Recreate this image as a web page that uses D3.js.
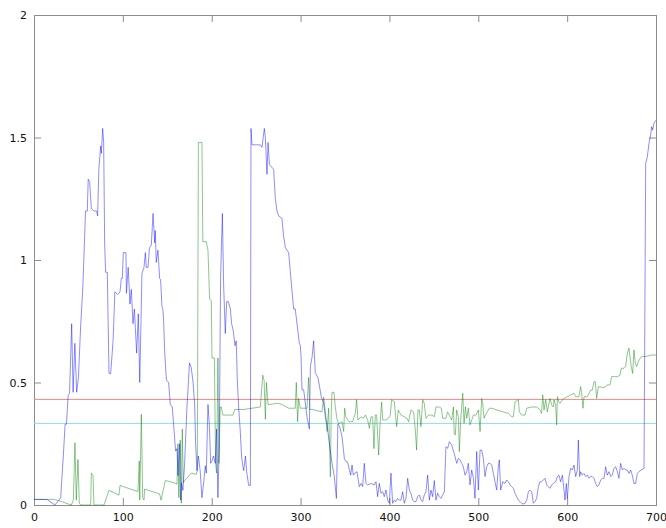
<!DOCTYPE html>
<html>
<head>
<meta charset="utf-8">
<script src="https://cdn.jsdelivr.net/npm/d3@7"></script>
<style>
  html, body { margin: 0; padding: 0; background: #fff; }
  svg { display: block; }
  .tick text { font-family: "DejaVu Sans", sans-serif; font-size: 11px; fill: #111; }
</style>
</head>
<body>
<div id="chart"></div>
<script>
// values, as [x, y]
const blueSeries = [
  [0,0.023],[15,0.022],[23.5,0.0],[28,0.02],[30,0.03],[33,0.2],[35,0.33],[36.5,0.33],[38.5,0.45],[40,0.455],
  [42.4,0.74],[44,0.46],[46,0.66],[48,0.46],[50,0.52],[52.5,0.73],[55,0.89],[58,1.2],[60,1.2],[61,1.33],
  [62.6,1.32],[64.5,1.21],[67.5,1.2],[70.5,1.2],[71.6,1.18],[73,1.37],[75,1.465],[75.8,1.435],[77.3,1.537],[78.4,1.48],
  [79.5,1.07],[80.6,0.95],[82.5,0.95],[84.4,0.537],[86.3,0.537],[89,0.67],[91,0.87],[94,0.86],[96.8,0.87],[98.3,0.925],
  [99.4,0.925],[100.5,1.03],[103.5,1.03],[104,0.864],[106,0.97],[108,0.82],[109.5,0.88],[111.4,0.74],[113,0.8],[115.5,0.62],
  [117.4,0.78],[119,0.5],[121.5,0.945],[123.8,0.97],[125.3,1.03],[126.4,0.97],[128.3,0.97],[130,1.05],[132,1.06],[134,1.19],
  [135.8,1.07],[136.5,1.12],[137.6,0.99],[139.5,1.04],[141.4,0.925],[142.5,0.92],[144,0.81],[145,0.8],[145.9,0.75],[147,0.63],
  [149,0.51],[151.5,0.5],[153.4,0.41],[155.6,0.4],[157.5,0.31],[159.4,0.22],[160.9,0.23],[162,0.12],[163.9,0.25],[165,0.02],
  [166,0.09],[167.6,0.06],[169.5,0.17],[172,0.39],[175,0.58],[177,0.56],[179,0.5],[180.8,0.41],[182,0.24],[183.4,0.14],
  [185,0.2],[187,0.14],[189,0.03],[190.9,0.09],[192.8,0.16],[193.9,0.13],[195.8,0.41],[197.3,0.33],[198.8,0.17],[200.3,0.18],
  [202,0.2],[204,0.17],[205.5,0.31],[207,0.03],[208.5,0.25],[210,0.93],[212,1.19],[213.4,0.9],[215.3,0.7],[216.8,0.83],
  [218.7,0.83],[221,0.8],[222.4,0.74],[224.3,0.71],[226.2,0.65],[227.6,0.67],[228.8,0.51],[230.3,0.4],[232,0.31],[233.6,0.2],
  [235,0.16],[236,0.14],[238,0.2],[239.3,0.136],[241.6,0.08],[243.5,0.08],[244.2,1.537],[245.4,1.47],[254.7,1.47],[256.6,1.46],
  [259.2,1.537],[260.4,1.5],[262.2,1.35],[263.4,1.48],[264.9,1.39],[269.7,1.37],[271.6,1.25],[273.5,1.2],[275.4,1.18],[279,1.17],
  [281,1.095],[282.9,1.05],[286.6,1.03],[289.6,0.905],[292.2,0.8],[294,0.8],[296,0.74],[298.6,0.66],[299.7,0.65],[300.5,0.61],
  [301.6,0.47],[303.5,0.47],[307.2,0.36],[309.9,0.31],[311,0.565],[313,0.605],[314.7,0.67],[316.6,0.54],[319.6,0.52],[323.4,0.44],
  [326,0.415],[327.9,0.36],[329.7,0.33],[332.4,0.25],[335.4,0.17],[338,0.116],[340.3,0.027],[342,0.33],[344,0.32],[346.6,0.28],
  [349.3,0.19],[351,0.177],[353,0.175],[354.9,0.143],[356.4,0.122],[357.9,0.163],[359.4,0.122],[361.2,0.13],[363.5,0.136],[365,0.1],
  [366.1,0.075],[368,0.088],[369.9,0.075],[371.7,0.17],[373.6,0.088],[375.5,0.082],[379.2,0.088],[383,0.082],[384.9,0.095],[386.7,0.034],
  [388.6,0.088],[390.5,0.048],[392.4,0.054],[394.2,0.034],[396.1,0.061],[398,0.02],[399.9,0.007],[401.7,0.13],[403.6,0.007],[405.5,0.02],
  [407.4,0.014],[409.2,0.027],[411.1,0.02],[413,0.02],[414.9,0.054],[416.7,0.007],[418.6,0.027],[420.5,0.109],[422.4,0.061],[424.2,0.048],
  [426.1,0.02],[428,0.014],[429.9,0.014],[431.7,0.034],[433.6,0.041],[435.5,0.02],[437.4,0.014],[439.2,0.041],[441.1,0.054],[443,0.122],
  [444.9,0.02],[446.7,0.061],[448.6,0.034],[450.5,0.1],[452.4,0.02],[454.2,0.048],[456.1,0.034],[458,0.027],[459.9,0.041],[461.8,0.054],
  [463.6,0.238],[465.5,0.231],[467.4,0.258],[470.1,0.245],[473.9,0.197],[475.7,0.17],[477.6,0.19],[479.5,0.184],[481.3,0.17],[483.2,0.156],
  [485.1,0.122],[487,0.136],[488.8,0.17],[490.7,0.082],[492.6,0.143],[494.5,0.109],[496.3,0.027],[498.2,0.218],[500.1,0.061],[502,0.224],
  [503.8,0.224],[505.7,0.19],[507.6,0.116],[509.5,0.156],[511.3,0.17],[513.2,0.17],[515.1,0.163],[517,0.129],[518.8,0.095],[520.7,0.061],
  [522.6,0.156],[523.7,0.184],[525.2,0.061],[527.5,0.095],[530.1,0.088],[532,0.102],[533.8,0.095],[535.7,0.082],[537.6,0.075],[539.5,0.068],
  [541.3,0.048],[543.2,0.034],[545.1,0.02],[547,0.014],[548.8,0.007],[550.7,0.004],[552.6,0.007],[554.5,0.02],[556.4,0.054],[558.2,0.061],
  [560.1,0.054],[562,0.007],[563.9,0.014],[565.7,0.027],[567.6,0.075],[569.5,0.095],[571.3,0.095],[573.2,0.102],[575.1,0.109],[577,0.082],
  [578.8,0.075],[580.7,0.068],[582.6,0.082],[584.5,0.088],[587.1,0.095],[589,0.116],[590.8,0.122],[592.7,0.095],[594.6,0.122],[596.5,0.061],
  [597.6,0.02],[599.1,0.088],[600.2,0.027],[602.1,0.116],[604,0.15],[605.8,0.143],[607.7,0.163],[609.6,0.116],[611.5,0.143],[612.6,0.265],
  [614.1,0.116],[615.2,0.136],[617.1,0.122],[619,0.129],[620.8,0.116],[622.7,0.122],[624.6,0.109],[626.5,0.116],[628.3,0.116],[630.2,0.109],
  [632.1,0.088],[634,0.075],[635.8,0.082],[637.7,0.102],[639.6,0.109],[641.5,0.109],[643.3,0.156],[645.2,0.122],[647.1,0.136],[649,0.116],
  [650.8,0.122],[652.7,0.15],[654.6,0.156],[656.5,0.136],[658.3,0.109],[660.2,0.17],[662.1,0.143],[664,0.15],[665.8,0.143],[667.7,0.143],
  [669.6,0.129],[671.5,0.143],[673.3,0.122],[675.2,0.088],[677.1,0.088],[679,0.129],[680.8,0.136],[683.5,0.143],[686.5,0.15],[688.4,1.395],
  [690.2,1.42],[692.1,1.476],[694,1.51],[695.1,1.544],[696.2,1.53],[697.8,1.558],[699.6,1.57]
];

const greenSeries = [
  [0,0.023],[23,0.023],[30,0.015],[42,0.0],[44.3,0.02],[46.1,0.254],[47.6,0.02],[49.5,0.186],[51,0.007],[52.5,0],
  [63.8,0],[64.5,0.13],[66.4,0.12],[67.5,0],[78.8,0],[84.4,0.06],[95.6,0.04],[96.8,0.08],[112.5,0.06],[117,0.055],
  [118.5,0.18],[119,0.02],[120.8,0.37],[122.3,0.03],[123.8,0.02],[124.5,0.065],[141.4,0.045],[143,0.02],[147.8,0.1],[158.3,0.09],
  [160.9,0.085],[162,0.25],[163,0.03],[164.6,0.265],[165.8,0.007],[166.9,0.31],[168,0.09],[169.5,0.1],[177,0.13],[182.6,0.125],
  [183.8,0.14],[185,1.48],[189,1.48],[190,1.075],[193.9,1.075],[195.8,1.04],[197.6,0.84],[199.5,0.835],[200.3,0.6],[203,0.6],
  [204.4,0.17],[205.5,0.13],[207,0.6],[208.1,0.17],[209.6,0.4],[210.8,0.4],[212.6,0.367],[216.4,0.367],[223.9,0.367],[225.8,0.39],
  [236.3,0.39],[254.7,0.4],[257.4,0.53],[258.9,0.51],[260.4,0.35],[261.5,0.5],[263.4,0.41],[275.4,0.415],[279,0.41],[286.6,0.395],
  [294,0.395],[295.2,0.5],[296.7,0.34],[297.8,0.435],[299.7,0.395],[307.2,0.395],[309,0.52],[310.3,0.39],[313,0.39],[324,0.38],
  [326,0.44],[327.9,0.38],[329.8,0.3],[331.6,0.395],[333.5,0.115],[334.6,0.39],[335.4,0.46],[337.6,0.46],[339.1,0.4],[341,0.35],
  [342.9,0.33],[346.6,0.34],[348.5,0.3],[349.6,0.395],[351,0.36],[353,0.347],[354.9,0.34],[358.6,0.34],[361.6,0.374],[363.1,0.43],
  [364.6,0.347],[368,0.36],[370.6,0.354],[372.9,0.367],[375.5,0.347],[377.4,0.313],[379.2,0.36],[381.1,0.36],[382.6,0.23],[384.1,0.367],
  [385.6,0.367],[387.9,0.204],[389.4,0.327],[391.2,0.42],[392.4,0.347],[396.1,0.347],[398.7,0.354],[401,0.367],[402.5,0.43],[405.5,0.422],
  [407.4,0.347],[408.1,0.32],[410,0.388],[413,0.367],[416.7,0.36],[419.7,0.354],[421.6,0.34],[424.2,0.388],[427.2,0.38],[429.1,0.306],
  [430.6,0.224],[432.1,0.388],[433.6,0.388],[435.5,0.32],[437.4,0.43],[439.2,0.415],[441.1,0.354],[444.1,0.367],[447.9,0.367],[450.5,0.36],
  [452.4,0.4],[456.1,0.4],[458.4,0.395],[459.9,0.354],[463.6,0.354],[465.5,0.38],[468.2,0.36],[470.1,0.347],[472,0.4],[473,0.29],
  [474.2,0.286],[475.7,0.388],[477.6,0.36],[478.7,0.218],[480.2,0.347],[482.5,0.456],[484,0.333],[485.5,0.4],[487,0.354],[488.8,0.395],
  [490.7,0.327],[492.6,0.347],[494.5,0.367],[497.5,0.367],[500.1,0.388],[502,0.3],[503.8,0.435],[505,0.415],[506.5,0.354],[508,0.367],
  [510.2,0.38],[512.5,0.395],[515.1,0.395],[520.7,0.388],[528.2,0.38],[533.8,0.374],[537.6,0.36],[539.5,0.36],[541.3,0.42],[545.1,0.43],
  [546.2,0.38],[548.8,0.367],[552.6,0.367],[554.5,0.395],[560.1,0.4],[565.7,0.4],[569.5,0.388],[571.3,0.374],[572.5,0.45],[574,0.388],
  [575.8,0.43],[577.7,0.38],[580.7,0.435],[582.6,0.408],[584.5,0.4],[585.2,0.429],[587.1,0.408],[588.2,0.327],[589,0.442],[590.5,0.422],
  [592,0.415],[594.6,0.429],[596.5,0.435],[600.2,0.442],[604,0.449],[607.7,0.456],[609.6,0.442],[613.3,0.442],[615.2,0.483],[616.3,0.456],
  [617.8,0.395],[619,0.442],[622.7,0.442],[626.5,0.469],[628.3,0.469],[630.2,0.503],[631.7,0.503],[633.2,0.435],[635.1,0.483],[641.5,0.479],
  [645.2,0.49],[648.2,0.49],[650.1,0.524],[656.5,0.524],[659.5,0.53],[661,0.558],[664,0.558],[665.8,0.565],[667.7,0.62],[669.6,0.64],
  [670.7,0.605],[672.2,0.565],[673.7,0.537],[675.2,0.633],[676.7,0.578],[678.2,0.565],[680.8,0.592],[683.5,0.605],[690.2,0.607],[694,0.612],
  [700,0.612]
];

// the two flat reference lines
const redLevel = 0.431;
const cyanLevel = 0.333;

const xTicks = [0, 100, 200, 300, 400, 500, 600, 700];
const yTicks = [0, 0.5, 1, 1.5, 2];

const width = 666, height = 528;
const margin = { top: 15, right: 10, bottom: 23, left: 34 };
const innerW = width - margin.left - margin.right;
const innerH = height - margin.top - margin.bottom;

const svg = d3.select("#chart")
  .append("svg")
  .attr("width", width)
  .attr("height", height);

const g = svg.append("g")
  .attr("transform", "translate(" + margin.left + "," + margin.top + ")");

const x = d3.scaleLinear().domain([0, 700]).range([0, innerW]);
const y = d3.scaleLinear().domain([0, 2]).range([innerH, 0]);

const fmt = d3.format("~g");

// axes, gnuplot style: ticks inside, mirrored on top and right
function styleAxis(sel) {
  sel.select(".domain").remove();
  sel.selectAll(".tick line").attr("stroke", "#8c8c8c");
}

g.append("g")
  .attr("transform", "translate(0," + innerH + ")")
  .call(d3.axisBottom(x).tickValues(xTicks).tickFormat(fmt).tickSize(-7).tickPadding(8))
  .call(styleAxis);

g.append("g")
  .call(d3.axisLeft(y).tickValues(yTicks).tickFormat(fmt).tickSize(-7).tickPadding(7))
  .call(styleAxis);

g.append("g")
  .call(d3.axisTop(x).tickValues(xTicks).tickFormat("").tickSize(-7))
  .call(styleAxis);

g.append("g")
  .attr("transform", "translate(" + innerW + ",0)")
  .call(d3.axisRight(y).tickValues(yTicks).tickFormat("").tickSize(-7))
  .call(styleAxis);

g.append("rect")
  .attr("x", 0.5).attr("y", 0.5)
  .attr("width", innerW).attr("height", innerH)
  .attr("fill", "none")
  .attr("stroke", "#8c8c8c");

// reference levels
g.append("line")
  .attr("x1", x(0)).attr("x2", x(700))
  .attr("y1", y(redLevel)).attr("y2", y(redLevel))
  .attr("stroke", "#f08888").attr("stroke-width", 1);

g.append("line")
  .attr("x1", x(0)).attr("x2", x(700))
  .attr("y1", y(cyanLevel)).attr("y2", y(cyanLevel))
  .attr("stroke", "#8fe0e0").attr("stroke-width", 1);

const line = d3.line()
  .x(d => x(d[0]))
  .y(d => y(d[1]));

g.append("path")
  .datum(greenSeries)
  .attr("fill", "none")
  .attr("stroke", "#008000")
  .attr("stroke-width", 0.45)
  .attr("d", line);

g.append("path")
  .datum(blueSeries)
  .attr("fill", "none")
  .attr("stroke", "#0000ff")
  .attr("stroke-width", 0.45)
  .attr("d", line);
</script>
</body>
</html>
